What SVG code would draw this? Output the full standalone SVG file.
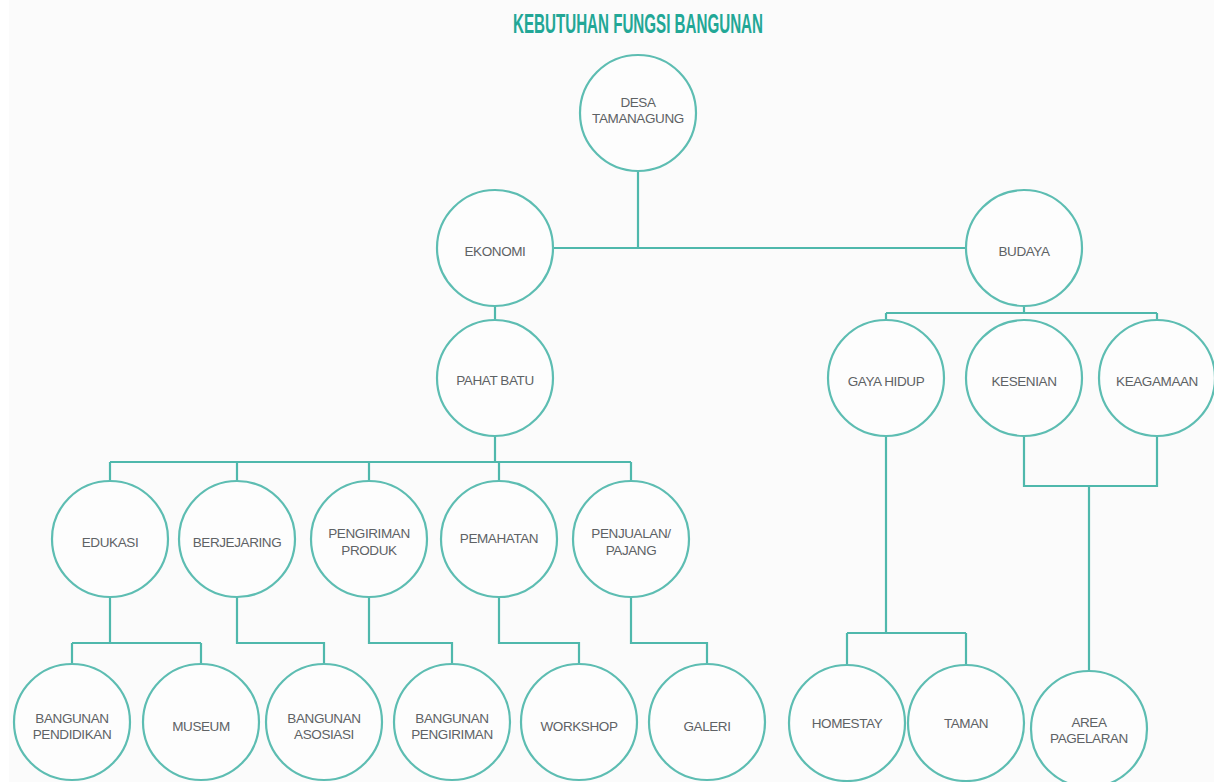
<svg xmlns="http://www.w3.org/2000/svg" width="1214" height="782" viewBox="0 0 1214 782">
<style>
.n circle{fill:#fdfdfd;stroke:#5dbdb2;stroke-width:2.2}
.n text{font-family:"Liberation Sans",Arial,sans-serif;font-size:13.5px;fill:#5e6265;text-anchor:middle;letter-spacing:-0.4px}
.c path{fill:none;stroke:#4fb8ac;stroke-width:2.2}
.title{font-family:"Liberation Sans",Arial,sans-serif;font-size:27px;font-weight:bold;fill:#22a796;text-anchor:middle}
</style>
<rect width="1214" height="782" fill="#ffffff"/>
<rect x="9" y="0" width="1205" height="782" fill="#fbfbfb"/>
<text class="title" x="638" y="33" textLength="250" lengthAdjust="spacingAndGlyphs">KEBUTUHAN FUNGSI BANGUNAN</text>
<g class="c" id="connectors">
<path d="M638 171V248"/>
<path d="M553 248H966"/>
<path d="M495 306V320"/>
<path d="M495 436V462M110 462H631M110 462V481M237 462V481M369 462V481M499 462V481M631 462V481"/>
<path d="M110 597V643M72 643H201M72 643V664M201 643V664"/>
<path d="M237 597V643H324V664"/>
<path d="M369 597V643H452V664"/>
<path d="M499 597V643H579V664"/>
<path d="M631 597V643H707V664"/>
<path d="M1024 306V313M886 313H1157M886 313V320M1157 313V320"/>
<path d="M886 436V633M847 633H966M847 633V665M966 633V665"/>
<path d="M1024 436V486H1157V436M1089 486V671"/>
</g>
<g class="n" id="desa"><circle cx="638" cy="113" r="58"/><text x="638" y="107">DESA</text><text x="638" y="123">TAMANAGUNG</text></g>
<g class="n" id="ekonomi"><circle cx="495" cy="248" r="58"/><text x="495" y="256">EKONOMI</text></g>
<g class="n" id="budaya"><circle cx="1024" cy="248" r="58"/><text x="1024" y="256">BUDAYA</text></g>
<g class="n" id="pahat-batu"><circle cx="495" cy="378" r="58"/><text x="495" y="385">PAHAT BATU</text></g>
<g class="n" id="gaya-hidup"><circle cx="886" cy="378" r="58"/><text x="886" y="386">GAYA HIDUP</text></g>
<g class="n" id="kesenian"><circle cx="1024" cy="378" r="58"/><text x="1024" y="386">KESENIAN</text></g>
<g class="n" id="keagamaan"><circle cx="1157" cy="378" r="58"/><text x="1157" y="386">KEAGAMAAN</text></g>
<g class="n" id="edukasi"><circle cx="110" cy="539" r="58"/><text x="110" y="547">EDUKASI</text></g>
<g class="n" id="berjejaring"><circle cx="237" cy="539" r="58"/><text x="237" y="547">BERJEJARING</text></g>
<g class="n" id="pengiriman-produk"><circle cx="369" cy="539" r="58"/><text x="369" y="538">PENGIRIMAN</text><text x="369" y="555">PRODUK</text></g>
<g class="n" id="pemahatan"><circle cx="499" cy="539" r="58"/><text x="499" y="543">PEMAHATAN</text></g>
<g class="n" id="penjualan"><circle cx="631" cy="539" r="58"/><text x="631" y="538">PENJUALAN/</text><text x="631" y="555">PAJANG</text></g>
<g class="n" id="bangunan-pendidikan"><circle cx="72" cy="722" r="58"/><text x="72" y="723">BANGUNAN</text><text x="72" y="739">PENDIDIKAN</text></g>
<g class="n" id="museum"><circle cx="201" cy="722" r="58"/><text x="201" y="731">MUSEUM</text></g>
<g class="n" id="bangunan-asosiasi"><circle cx="324" cy="722" r="58"/><text x="324" y="723">BANGUNAN</text><text x="324" y="739">ASOSIASI</text></g>
<g class="n" id="bangunan-pengiriman"><circle cx="452" cy="722" r="58"/><text x="452" y="723">BANGUNAN</text><text x="452" y="739">PENGIRIMAN</text></g>
<g class="n" id="workshop"><circle cx="579" cy="722" r="58"/><text x="579" y="731">WORKSHOP</text></g>
<g class="n" id="galeri"><circle cx="707" cy="722" r="58"/><text x="707" y="731">GALERI</text></g>
<g class="n" id="homestay"><circle cx="847" cy="723" r="58"/><text x="847" y="728">HOMESTAY</text></g>
<g class="n" id="taman"><circle cx="966" cy="723" r="58"/><text x="966" y="728">TAMAN</text></g>
<g class="n" id="area-pagelaran"><circle cx="1089" cy="729" r="58"/><text x="1089" y="727">AREA</text><text x="1089" y="743">PAGELARAN</text></g>
</svg>
